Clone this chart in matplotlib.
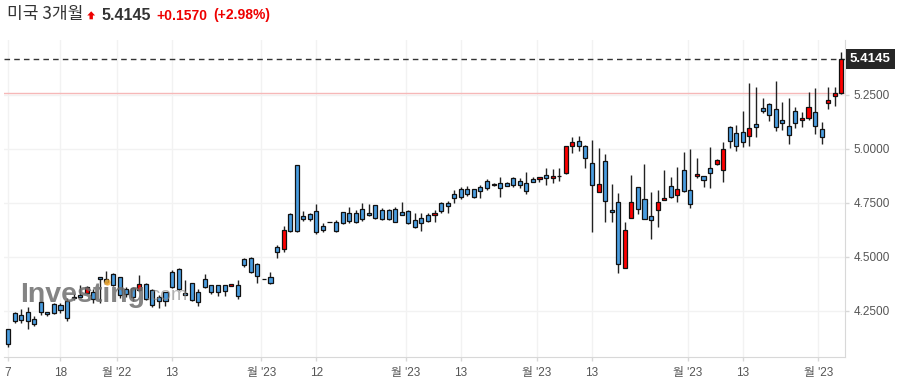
import matplotlib
matplotlib.use("Agg")
import matplotlib.pyplot as plt
import matplotlib.patches as mpatches
import numpy as np

# daily candles (blue = close below open, red = close above open)
opens = [4.165, 4.238, 4.231, 4.244, 4.213, 4.289, 4.243, 4.280, 4.276, 4.293,
         4.315, 4.321, 4.330, 4.335, 4.404, 4.395, 4.418, 4.405, 4.349, 4.353,
         4.344, 4.372, 4.344, 4.313, 4.335, 4.428, 4.445, 4.330, 4.377, 4.338,
         4.395, 4.367, 4.367, 4.367, 4.364, 4.367, 4.489, 4.493, 4.465, 4.397,
         4.405, 4.546, 4.534, 4.698, 4.923, 4.687, 4.696, 4.713, 4.641, 4.659,
         4.659, 4.706, 4.701, 4.701, 4.719, 4.701, 4.738, 4.716, 4.716, 4.719,
         4.708, 4.713, 4.671, 4.678, 4.693, 4.692, 4.747, 4.747, 4.790, 4.812,
         4.813, 4.812, 4.823, 4.849, 4.830, 4.840, 4.840, 4.863, 4.850, 4.840,
         4.860, 4.858, 4.877, 4.863, 4.872, 4.889, 5.011, 5.035, 5.011, 4.932,
         4.800, 4.943, 4.716, 4.752, 4.446, 4.678, 4.821, 4.766, 4.687, 4.715,
         4.761, 4.826, 4.784, 4.901, 4.807, 4.872, 4.872, 4.911, 4.928, 4.901,
         5.099, 5.071, 5.077, 5.057, 5.114, 5.187, 5.206, 5.182, 5.133, 5.104,
         5.175, 5.131, 5.144, 5.169, 5.091, 5.210, 5.243, 5.2575]
closes = [4.094, 4.204, 4.207, 4.202, 4.188, 4.243, 4.233, 4.238, 4.253, 4.218,
          4.307, 4.312, 4.361, 4.305, 4.395, 4.382, 4.369, 4.323, 4.326, 4.315,
          4.374, 4.304, 4.275, 4.296, 4.296, 4.361, 4.349, 4.321, 4.300, 4.289,
          4.360, 4.335, 4.335, 4.340, 4.372, 4.318, 4.461, 4.429, 4.411, 4.397,
          4.377, 4.520, 4.622, 4.620, 4.617, 4.676, 4.676, 4.613, 4.622, 4.659,
          4.618, 4.655, 4.665, 4.662, 4.673, 4.692, 4.678, 4.673, 4.673, 4.662,
          4.694, 4.657, 4.639, 4.657, 4.667, 4.701, 4.713, 4.736, 4.773, 4.778,
          4.789, 4.775, 4.803, 4.817, 4.838, 4.817, 4.829, 4.832, 4.832, 4.806,
          4.847, 4.868, 4.866, 4.872, 4.872, 5.011, 5.032, 5.012, 4.957, 4.832,
          4.835, 4.756, 4.706, 4.465, 4.622, 4.752, 4.721, 4.675, 4.668, 4.752,
          4.772, 4.776, 4.812, 4.804, 4.743, 4.881, 4.854, 4.886, 4.948, 4.998,
          5.036, 5.013, 5.030, 5.094, 5.102, 5.176, 5.155, 5.099, 5.118, 5.062,
          5.118, 5.142, 5.192, 5.104, 5.053, 5.224, 5.2575, 5.4145]
highs = [4.166, 4.245, 4.258, 4.266, 4.225, 4.296, 4.243, 4.284, 4.284, 4.307,
         4.327, 4.369, 4.364, 4.349, 4.408, 4.436, 4.426, 4.408, 4.358, 4.361,
         4.415, 4.377, 4.349, 4.323, 4.338, 4.438, 4.449, 4.392, 4.380, 4.349,
         4.420, 4.370, 4.370, 4.370, 4.373, 4.392, 4.495, 4.497, 4.470, 4.397,
         4.431, 4.556, 4.642, 4.701, 4.925, 4.713, 4.704, 4.744, 4.655, 4.659,
         4.670, 4.708, 4.729, 4.716, 4.750, 4.744, 4.741, 4.724, 4.722, 4.731,
         4.752, 4.716, 4.701, 4.701, 4.701, 4.716, 4.752, 4.758, 4.807, 4.824,
         4.829, 4.815, 4.832, 4.860, 4.839, 4.870, 4.847, 4.870, 4.866, 4.894,
         4.870, 4.870, 4.909, 4.905, 4.909, 5.014, 5.056, 5.058, 5.017, 5.040,
         5.002, 4.974, 4.835, 4.793, 4.659, 4.878, 4.821, 4.929, 4.801, 4.809,
         4.901, 4.870, 4.914, 4.983, 4.997, 4.956, 4.872, 5.006, 4.950, 5.032,
         5.105, 5.110, 5.175, 5.303, 5.284, 5.233, 5.210, 5.313, 5.216, 5.233,
         5.194, 5.171, 5.264, 5.280, 5.125, 5.287, 5.287, 5.449]
lows = [4.083, 4.194, 4.194, 4.164, 4.179, 4.230, 4.224, 4.233, 4.238, 4.202,
        4.299, 4.312, 4.326, 4.287, 4.284, 4.382, 4.366, 4.307, 4.315, 4.296,
        4.343, 4.299, 4.268, 4.261, 4.272, 4.354, 4.346, 4.321, 4.296, 4.273,
        4.356, 4.326, 4.319, 4.318, 4.363, 4.304, 4.451, 4.426, 4.377, 4.397,
        4.372, 4.492, 4.520, 4.616, 4.616, 4.665, 4.667, 4.605, 4.613, 4.659,
        4.614, 4.651, 4.657, 4.655, 4.667, 4.688, 4.675, 4.670, 4.670, 4.661,
        4.692, 4.650, 4.634, 4.620, 4.662, 4.662, 4.701, 4.701, 4.747, 4.767,
        4.782, 4.771, 4.770, 4.807, 4.829, 4.778, 4.828, 4.824, 4.817, 4.789,
        4.844, 4.844, 4.832, 4.840, 4.850, 4.884, 4.979, 4.988, 4.909, 4.613,
        4.800, 4.659, 4.662, 4.423, 4.446, 4.678, 4.696, 4.675, 4.582, 4.639,
        4.761, 4.773, 4.755, 4.801, 4.724, 4.863, 4.824, 4.817, 4.926, 4.847,
        5.002, 4.991, 5.006, 5.013, 5.056, 5.164, 5.130, 5.083, 5.087, 5.022,
        5.097, 5.099, 5.133, 5.067, 5.022, 5.182, 5.198, 5.253]

tick_pos = [0, 8, 16.6, 25, 38.6, 47, 60.6, 69, 80.6, 89, 103.6, 112, 123.5]
tick_labels = ["7", "18", "월 '22", "13", "월 '23", "12", "월 '23", "13",
               "월 '23", "13", "월 '23", "13", "월 '23"]
y_ticks = [4.25, 4.5, 4.75, 5.0, 5.25]

title = "미국 3개월"
last_price = 5.4145
prev_close = 5.2575
change = "+0.1570"
change_pct = "(+2.98%)"

plt.rcParams['font.family'] = ['Liberation Sans', 'Noto Sans CJK KR', 'DejaVu Sans']

W, H = 898, 384
fig = plt.figure(figsize=(W / 100, H / 100), dpi=100)
fig.patch.set_facecolor('white')

# plot area in pixels: x 4..845, y 40..357
ax = fig.add_axes([4 / W, (H - 357) / H, 841 / W, 317 / H])

o = np.array(opens)
c = np.array(closes)
hi = np.array(highs)
lo = np.array(lows)
idx = np.arange(len(o))

blue = '#4a9de0'
red = '#ff0000'
cols = [red if cc > oo else blue for oo, cc in zip(o, c)]

ax.vlines(idx, lo, hi, color='#222222', lw=1, zorder=3)
ax.bar(idx, np.abs(c - o), bottom=np.minimum(o, c), width=0.62,
       color=cols, edgecolor='#111111', linewidth=0.9, zorder=4)

ax.set_xlim(-0.61, 127.56)
ax.set_ylim(4.0356, 5.503)

ax.axhline(prev_close, color='#f6b8b8', lw=1, zorder=2)
ax.axhline(last_price, color='#333333', lw=1, ls=(0, (4, 3)), zorder=2)

ax.set_xticks(tick_pos)
ax.set_xticklabels(tick_labels)
ax.yaxis.tick_right()
ax.set_yticks(y_ticks)
ax.set_yticklabels([f"{v:.4f}" for v in y_ticks])
ax.tick_params(axis='both', colors='#d8d8d8', labelcolor='#555555',
               labelsize=8.5, length=3, width=1)
ax.tick_params(axis='x', pad=4)
ax.tick_params(axis='y', pad=3)
ax.grid(True, color='#f2f2f2', lw=1, zorder=0)
ax.set_axisbelow(True)
for s in ['top', 'left']:
    ax.spines[s].set_visible(False)
for s in ['bottom', 'right']:
    ax.spines[s].set_color('#d8d8d8')

# current price box on the right axis
ax.annotate(f"{last_price:.4f}", xy=(1.0, last_price), xycoords=('axes fraction', 'data'),
            xytext=(5, 0), textcoords='offset pixels', ha='left', va='center',
            color='white', fontsize=9.5, fontweight='bold',
            bbox=dict(boxstyle='square,pad=0.3', fc='#262626', ec='none'),
            annotation_clip=False)

# watermark
ax.text(0.019, 0.174, "Investing", transform=ax.transAxes, fontsize=20.5,
        fontweight='bold', color='#6e6e6e', alpha=0.85, zorder=6)
ax.text(0.1675, 0.180, ".com", transform=ax.transAxes, fontsize=14,
        color='#8a8a8a', alpha=0.65, zorder=6)
ax.plot([0.1225], [0.238], 'o', transform=ax.transAxes, ms=4.5,
        color='#f5a623', alpha=0.8, mec='none', zorder=7)

# header
def px(x, y):
    return x / W, 1 - y / H

fig.text(*px(7, 19.5), title, fontsize=12.3, color='#333333', va='baseline',
         family=['Noto Sans CJK KR', 'DejaVu Sans'])
arrow = mpatches.Polygon([px(87.3, 15.5), px(91.2, 11.3), px(95.1, 15.5),
                          px(92.9, 15.5), px(92.9, 19.3), px(89.5, 19.3),
                          px(89.5, 15.5)], closed=True, transform=fig.transFigure,
                         fc='#ee0000', ec='none')
fig.add_artist(arrow)
fig.text(*px(101.5, 19.5), f"{last_price:.4f}", fontsize=11.5, fontweight='bold',
         color='#333333', va='baseline')
fig.text(*px(156.5, 19.5), change, fontsize=10, fontweight='bold',
         color='#ee0000', va='baseline')
fig.text(*px(213, 19.5), change_pct, fontsize=10, fontweight='bold',
         color='#ee0000', va='baseline')

fig.savefig('out.png', dpi=100)
